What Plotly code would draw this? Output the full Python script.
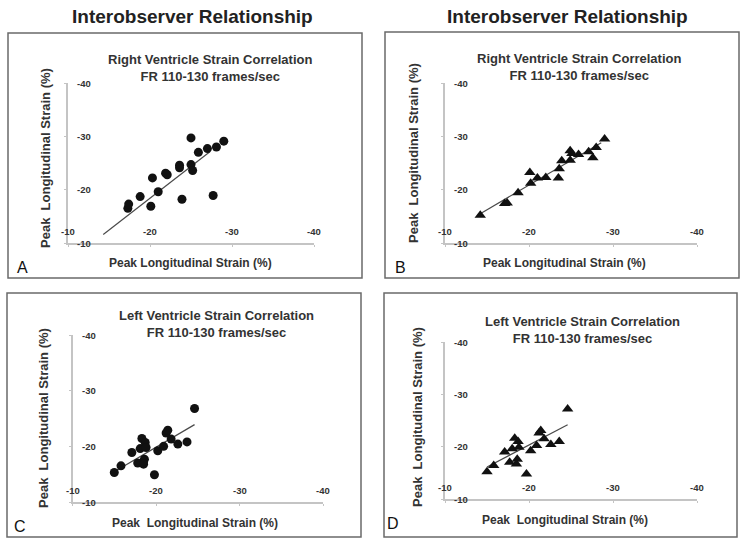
import plotly.graph_objects as go

W, H = 743, 545

# ---------------- data ----------------
rv_a_x = [-17.3, -17.4, -18.8, -20.1, -20.3, -21.0, -21.9, -22.1, -23.6, -23.6,
          -23.9, -25.0, -25.0, -25.2, -25.9, -27.0, -27.7, -28.1, -29.0]
rv_a_y = [-16.5, -17.3, -18.7, -16.9, -22.2, -19.6, -23.1, -22.8, -24.6, -24.1,
          -18.2, -29.7, -24.7, -23.6, -27.0, -27.7, -18.9, -28.0, -29.1]
rv_a_fit_x = [-14.3, -27.3]
rv_a_fit_y = [-11.6, -27.1]

rv_b_x = [-14.2, -17.1, -17.4, -18.7, -20.1, -20.2, -21.0, -22.0, -23.5, -23.6,
          -23.9, -24.9, -24.9, -25.1, -25.9, -27.1, -27.6, -28.0, -29.0]
rv_b_y = [-15.2, -17.4, -17.5, -19.4, -23.2, -21.2, -22.2, -22.3, -22.2, -23.9,
          -25.4, -27.3, -25.5, -26.8, -26.6, -27.1, -26.0, -27.9, -29.5]
rv_b_fit_x = [-14.2, -28.6]
rv_b_fit_y = [-15.5, -28.8]

lv_c_x = [-15.0, -15.8, -17.1, -17.8, -18.1, -18.3, -18.5, -18.6, -18.7, -18.8,
          -18.5, -19.8, -20.2, -20.9, -21.2, -21.4, -21.8, -22.6, -23.7, -24.6]
lv_c_y = [-15.3, -16.5, -18.9, -17.0, -19.6, -21.4, -17.2, -17.7, -20.7, -19.8,
          -16.8, -14.9, -19.2, -20.0, -22.4, -22.9, -21.3, -20.4, -20.8, -26.8]
lv_c_fit_x = [-15.2, -24.6]
lv_c_fit_y = [-15.6, -23.9]

lv_d_x = [-15.0, -15.8, -17.1, -17.7, -18.0, -18.3, -18.6, -18.5, -18.7, -18.8,
          -19.7, -20.2, -20.9, -21.2, -21.4, -21.8, -22.6, -23.6, -24.6]
lv_d_y = [-15.2, -16.4, -19.0, -17.0, -19.6, -21.6, -17.6, -16.7, -21.0, -19.9,
          -14.8, -19.2, -20.2, -22.6, -23.1, -21.5, -20.4, -21.0, -27.2]
lv_d_fit_x = [-15.0, -24.6]
lv_d_fit_y = [-16.1, -24.2]

tick_vals = [-10, -20, -30, -40]
tick_text = ["-10", "-20", "-30", "-40"]

main_title = "Interobserver Relationship"
rv_title = "Right Ventricle Strain Correlation<br>FR 110-130 frames/sec"
lv_title = "Left Ventricle Strain Correlation<br>FR 110-130 frames/sec"
x_title_1 = "Peak Longitudinal Strain (%)"
x_title_2 = "Peak  Longitudinal Strain (%)"
y_title = "Peak  Longitudinal Strain (%)"

FONT = "Liberation Sans, Arial, sans-serif"


def px(x):
    return x / W


def py(y):
    return 1 - y / H


# panel geometry (pixels): x(-10), x(-40), y(-10), y(-40)
panels = [
    dict(x=rv_a_x, y=rv_a_y, fx=rv_a_fit_x, fy=rv_a_fit_y, sym="circle", size=9,
         xd=(68.0, 314.0), yd=(243.0, 83.0)),
    dict(x=rv_b_x, y=rv_b_y, fx=rv_b_fit_x, fy=rv_b_fit_y, sym="triangle-up", size=10,
         xd=(445.0, 697.0), yd=(243.0, 83.0)),
    dict(x=lv_c_x, y=lv_c_y, fx=lv_c_fit_x, fy=lv_c_fit_y, sym="circle", size=9,
         xd=(72.5, 323.3), yd=(502.0, 335.0)),
    dict(x=lv_d_x, y=lv_d_y, fx=lv_d_fit_x, fy=lv_d_fit_y, sym="triangle-up", size=10,
         xd=(445.0, 697.0), yd=(499.0, 342.0)),
]

fig = go.Figure()
layout_axes = {}
ann = []
TICKFONT = dict(family=FONT, size=9.5, color="#333333")
for i, p in enumerate(panels):
    n = "" if i == 0 else str(i + 1)
    xa, ya = "x" + n, "y" + n
    fig.add_trace(go.Scatter(x=p["fx"], y=p["fy"], mode="lines",
                             line=dict(color="#4a4a4a", width=1.2),
                             xaxis=xa, yaxis=ya, showlegend=False, hoverinfo="skip"))
    fig.add_trace(go.Scatter(x=p["x"], y=p["y"], mode="markers",
                             marker=dict(symbol=p["sym"], size=p["size"], color="#111111",
                                         line=dict(width=0)),
                             xaxis=xa, yaxis=ya, showlegend=False))
    common = dict(showgrid=False, zeroline=False, showline=True, linecolor="#c4c4c4",
                  linewidth=1.5, ticks="outside", ticklen=2, tickcolor="#c4c4c4",
                  tickvals=tick_vals, showticklabels=False,
                  range=[-10, -40], fixedrange=True)
    layout_axes["xaxis" + n] = dict(common, domain=[px(p["xd"][0]), px(p["xd"][1])],
                                    anchor=ya)
    layout_axes["yaxis" + n] = dict(common, domain=[py(p["yd"][0]), py(p["yd"][1])],
                                    anchor=xa)
    # tick labels placed inside the plot, via the axes' own scales
    for v, t in zip(tick_vals, tick_text):
        ann.append(dict(x=v, xref=xa, y=0, yref=ya + " domain", text=f"<b>{t}</b>",
                        showarrow=False, xanchor="center", yanchor="middle", yshift=12,
                        font=TICKFONT))
        ann.append(dict(x=0, xref=xa + " domain", y=v, yref=ya, text=f"<b>{t}</b>",
                        showarrow=False, xanchor="left", yanchor="middle", xshift=7,
                        font=TICKFONT))

fig.update_layout(**layout_axes)

# panel frames
boxes = [(8, 33, 362, 278), (385, 32, 739, 278), (7, 293, 361, 537), (384, 293, 737, 537)]
shapes = []
for (x0, y0, x1, y1) in boxes:
    shapes.append(dict(type="rect", xref="paper", yref="paper",
                       x0=px(x0), x1=px(x1), y0=py(y1), y1=py(y0),
                       line=dict(color="#6a6a6a", width=1.5)))


def text(x, y, s, size, bold=True, angle=0, color="#2a2a2a"):
    ann.append(dict(x=px(x), y=py(y), xref="paper", yref="paper", text=(f"<b>{s}</b>" if bold else s),
                    showarrow=False, textangle=angle, xanchor="center", yanchor="middle",
                    font=dict(family=FONT, size=size, color=color)))


text(192, 17, main_title, 19, color="#222222")
text(567, 17, main_title, 19, color="#222222")

# panel titles
for (cx, cy, t) in [(209.5, 68, rv_title), (578.7, 67, rv_title),
                    (216.7, 324, lv_title), (582.8, 330, lv_title)]:
    ann.append(dict(x=px(cx), y=py(cy), xref="paper", yref="paper",
                    text="<b>" + t.replace("<br>", "</b><br><b>") + "</b>",
                    showarrow=False, xanchor="center", yanchor="middle", align="center",
                    font=dict(family=FONT, size=13, color="#333333")))

# axis titles
text(190, 263, x_title_1, 12, color="#333333")
text(564.5, 263, x_title_1, 12, color="#333333")
text(195, 523, x_title_2, 12, color="#333333")
text(565, 520, x_title_2, 12, color="#333333")
text(45, 158, y_title, 13, angle=-90, color="#333333")
text(414, 153, y_title, 13, angle=-90, color="#333333")
text(43, 418, y_title, 13, angle=-90, color="#333333")
text(417, 417, y_title, 13, angle=-90, color="#333333")

# panel letters
for (lx, ly, l) in [(22, 267, "A"), (400, 267, "B"), (20, 526, "C"), (393, 523, "D")]:
    text(lx, ly, l, 16, bold=False, color="#111111")

fig.update_layout(width=W, height=H, margin=dict(l=0, r=0, t=0, b=0),
                  paper_bgcolor="white", plot_bgcolor="rgba(0,0,0,0)",
                  shapes=shapes, annotations=ann, showlegend=False)

fig.write_html("out.html", config={"displayModeBar": False},
               post_script="document.body.style.margin='0';document.body.style.overflow='hidden';")
